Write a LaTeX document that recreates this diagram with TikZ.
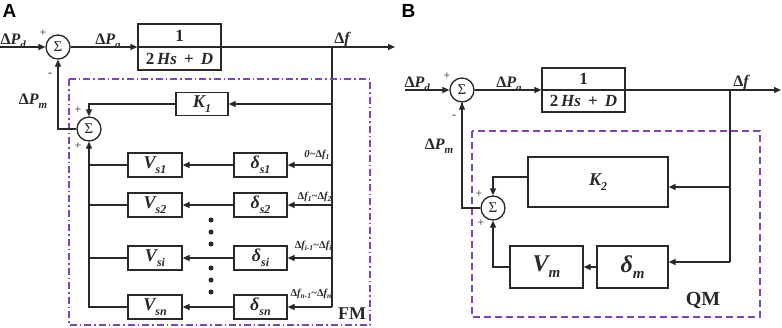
\documentclass[tikz,border=0pt]{standalone}
\usepackage{fontspec}
\setmainfont{Liberation Serif}
\newfontfamily\labfont{Liberation Sans}
\usetikzlibrary{arrows.meta,calc}
\definecolor{ln}{RGB}{40,40,40}
\definecolor{pur}{RGB}{125,70,190}
\newcommand\mysub[2][11]{\raisebox{-0.25em}{\fontsize{#1}{#1}\selectfont #2}}
\newcommand\Dl{{\upshape Δ}}
\begin{document}
\begin{tikzpicture}[x=1pt,y=-1pt,
  every path/.style={line width=1.3pt},
  tip/.style={draw=ln,-{Triangle[length=7pt,width=6pt]}},
  wire/.style={draw=ln},
  blk/.style={draw=ln, line width=1.3pt, inner sep=0, font=\fontsize{18}{18}\selectfont\bfseries\itshape, text=ln},
  bigblk/.style={blk, font=\fontsize{24}{24}\selectfont\bfseries\itshape},
  sumn/.style={draw=ln, circle, line width=1.3pt, minimum size=24pt, inner sep=0, font=\fontsize{15}{15}\selectfont, text=ln},
  lab/.style={font=\fontsize{16}{16}\selectfont\bfseries\itshape, inner sep=0, text=ln},
  small/.style={font=\fontsize{10.5}{10.5}\selectfont\bfseries\itshape, inner sep=0, text=ln},
  sign/.style={font=\fontsize{12}{12}\selectfont, inner sep=0, text=ln},
  panel/.style={font=\fontsize{19}{19}\selectfont\labfont\bfseries, inner sep=0},
  tag/.style={font=\fontsize{18}{18}\selectfont\bfseries, inner sep=0, text=ln},
  frac/.style={inner sep=0, font=\fontsize{17}{17}\selectfont\bfseries, text=ln},
  fmbox/.style={draw=pur, line width=1.2pt, dash pattern=on 7pt off 3pt on 1.5pt off 3pt},
  qmbox/.style={draw=pur, line width=1.2pt, dash pattern=on 7pt off 4pt},
]
\useasboundingbox (0,0) rectangle (782,327);

% ================= Panel A =================
\node[panel, anchor=base west] (pA) at (2,17) {A};
\coordinate (inA) at (0,47);
\node[sumn] (s1) at (58,47) {Σ};
\node[blk, minimum width=83pt, minimum height=46pt] (G1) at (179.5,47) {};
\draw[wire] (G1.west) -- (G1.east);
\node[frac] (G1n) at (179.5,36) {1};
\node[frac] (G1d) at (179.5,59) {2\,\textit{Hs}\, +\, \textit{D}};
\coordinate (bA) at (332,47);
\coordinate (outA) at (395,47);
\coordinate (bAend) at (332,307);

\draw[tip] (inA) -- (s1.west);
\draw[tip] (s1.east) -- (G1.west);
\draw[tip] (G1.east) -- (outA);
\draw[wire] (bA) -- (bAend);

\node[lab, anchor=base west] (lPd) at (0,44) {\Dl P\mysub{d}};
\node[lab, anchor=base] (lPa) at (108,44) {\Dl P\mysub{a}};
\node[lab, anchor=base] (lfA) at (342,43) {\Dl f};
\node[lab, anchor=base] (lPmA) at (33,104) {\Dl P\mysub{m}};
\node[sign] (pl1) at (43,33) {+};
\node[sign] (mi1) at (50,75) {-};

\draw[fmbox] (69,79) rectangle (370,325);

\node[blk, minimum width=52pt, minimum height=23pt] (k1) at (202,104) {K\mysub[12]{1}};
\node[sumn] (s2) at (89,129) {Σ};
\node[sign] (pl2) at (78,110) {+};
\node[sign] (pl3) at (78,146) {+};

\draw[tip] (bA |- k1) -- (k1.east);
\draw[tip] (k1.west) -| (s2.north);
\draw[tip] (s2.west) -| (s1.south);

\foreach \n/\y/\s in {1/165/s1, 2/205/s2, i/258/si, n/307/sn}{
  \node[blk, minimum width=54pt, minimum height=24pt] (v\n) at (155,\y) {V\mysub[12]{\s}};
  \node[blk, minimum width=53pt, minimum height=24pt] (d\n) at (260.5,\y) {δ\mysub[12]{\s}};
  \draw[tip] (bA |- d\n) -- (d\n.east);
  \draw[tip] (d\n.west) -- (v\n.east);
}
\draw[wire] (v1.west) -- (s2 |- v1);
\draw[wire] (v2.west) -- (s2 |- v2);
\draw[wire] (vi.west) -- (s2 |- vi);
\draw[tip] (vn.west) -| (s2.south);

\node[small, anchor=base east] (r1) at (330,157) {0\textasciitilde\Dl f\mysub[7.5]{1}};
\node[small, anchor=base east] (r2) at (332,199) {\Dl f\mysub[7.5]{1}\textasciitilde\Dl f\mysub[7.5]{2}};
\node[small, anchor=base east] (r3) at (332,248) {\Dl f\mysub[7.5]{i-1}\textasciitilde\Dl f\mysub[7.5]{i}};
\node[small, anchor=base east] (r4) at (332,296) {\Dl f\mysub[7.5]{n-1}\textasciitilde\Dl f\mysub[7.5]{n}};

\foreach \yy in {220,232,244,268,280,292}{
  \fill[ln] (211,\yy) circle (2.5pt);
}
\node[tag, anchor=base] (fm) at (352,319) {FM};

% ================= Panel B =================
\node[panel, anchor=base west] (pB) at (401,17) {B};
\coordinate (inB) at (405,90);
\node[sumn] (s3) at (462,90) {Σ};
\node[blk, minimum width=83pt, minimum height=44pt] (G2) at (583.5,90) {};
\draw[wire] (G2.west) -- (G2.east);
\node[frac] (G2n) at (583.5,79) {1};
\node[frac] (G2d) at (583.5,101) {2\,\textit{Hs}\, +\, \textit{D}};
\coordinate (bB) at (730,90);
\coordinate (outB) at (781,90);

\draw[tip] (inB) -- (s3.west);
\draw[tip] (s3.east) -- (G2.west);
\draw[tip] (G2.east) -- (outB);

\node[lab, anchor=base west] (lPdB) at (404,87) {\Dl P\mysub{d}};
\node[lab, anchor=base] (lPaB) at (509,87) {\Dl P\mysub{a}};
\node[lab, anchor=base] (lfB) at (741,86) {\Dl f};
\node[lab, anchor=base] (lPmB) at (439,149) {\Dl P\mysub{m}};
\node[sign] (pl4) at (447,76) {+};
\node[sign] (mi4) at (454,117) {-};

\draw[qmbox] (472,131) rectangle (760,317);

\node[sumn] (s4) at (493,208) {Σ};
\node[sign] (pl5) at (479,194) {+};
\node[sign] (pl6) at (481,223) {+};
\node[blk, minimum width=140pt, minimum height=50pt] (k2) at (598,182) {K\mysub[12]{2}};
\node[bigblk, minimum width=73pt, minimum height=42pt] (vm) at (546.5,267) {V\mysub[15]{m}};
\node[bigblk, minimum width=71pt, minimum height=42pt] (dm) at (632.5,267) {δ\mysub[15]{m}};
\coordinate (bBend) at (730,262);

\draw[wire] (bB) -- (bBend);
\draw[tip] (730,187) -- (k2.east |- 730,187);
\draw[tip] (bBend) -- (dm.east |- bBend);
\draw[tip] (dm.west) -- (vm.east);
\draw[tip] (k2.west |- 0,177) -| (s4.north);
\draw[tip] (vm.west) -| (s4.south);
\draw[wire] (s3.south) |- (s4.west);
\draw[tip] (s3.south |- 0,150) -- (s3.south);
\node[tag, anchor=base, font=\fontsize{20}{20}\selectfont\bfseries] (qm) at (703,305) {QM};
\end{tikzpicture}
\end{document}
